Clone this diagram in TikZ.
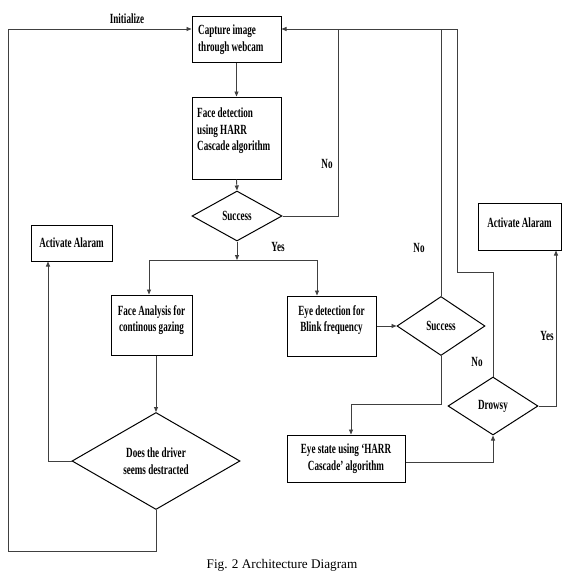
\documentclass[tikz,border=0pt]{standalone}
\usepackage{fontspec}
\setmainfont{Liberation Serif}
\newfontfamily\condfont[FakeStretch=0.65]{Liberation Serif}
\usetikzlibrary{shapes.geometric,arrows.meta}
\begin{document}
\begin{tikzpicture}[x=1pt,y=-1pt,
  box/.style={draw=black, line width=1pt, inner sep=0pt, rectangle},
  dia/.style={draw=black, line width=1pt, diamond, inner sep=0pt},
  txt/.style={font={\condfont\bfseries\fontsize{14}{16.5}\selectfont}, inner sep=0pt, align=center},
  conn/.style={line width=0.9pt, draw=black!75},
  arr/.style={conn, -{Triangle[length=5pt,width=4pt]}}]
\useasboundingbox[fill=white] (0,0) rectangle (565,584);

% boxes
\node[box, minimum width=89pt, minimum height=46pt] (cap) at (236.5,39) {};
\node[txt, anchor=west, align=left] (capt) at (198,39.5) {Capture image\\through webcam};
\node[box, minimum width=89pt, minimum height=82pt] (face) at (236.5,138) {};
\node[txt, anchor=west, align=left] (facet) at (197,131) {Face detection\\using HARR\\Cascade algorithm};
\node[dia, minimum width=90pt, minimum height=50pt, label={[txt]center:Success}] (s1) at (237,216) {};

\node[box, txt, minimum width=81pt, minimum height=36pt] (actL) at (71.5,243) {Activate Alaram};
\node[box, minimum width=81pt, minimum height=60pt] (fa) at (151.5,325) {};
\node[txt] (fat) at (151.5,320) {Face Analysis for\\continous gazing};
\node[box, minimum width=89pt, minimum height=60pt] (ed) at (331.5,326) {};
\node[txt] (edt) at (331.5,320) {Eye detection for\\Blink frequency};
\node[dia, minimum width=88pt, minimum height=59pt, label={[txt]center:Success}] (s2) at (441,326) {};
\node[box, minimum width=83pt, minimum height=47pt] (actR) at (519.5,226.5) {};
\node[txt] (actRt) at (519.5,223) {Activate Alaram};
\node[box, txt, minimum width=118pt, minimum height=47pt] (es) at (346,458.5) {Eye state using ‘HARR\\Cascade’ algorithm};
\node[dia, minimum width=90pt, minimum height=58pt, label={[txt]center:Drowsy}] (dr) at (493,406) {};
\node[dia, minimum width=168pt, minimum height=97pt, label={[txt]center:{Does the driver\\seems destracted}}] (big) at (156,461) {};

% labels
\node[txt] (linit) at (127,19) {Initialize};
\node[txt] (lno1) at (327,164) {No};
\node[txt] (lyes1) at (278,247) {Yes};
\node[txt] (lno2) at (419,248) {No};
\node[txt] (lyes2) at (547,336) {Yes};
\node[txt] (lno3) at (477,362) {No};
\node[font={\fontsize{13.2}{16}\selectfont}, inner sep=0pt] (fig) at (282,565) {Fig. 2 Architecture Diagram};

% connectors
\coordinate (bl) at (8,551);
\coordinate (tl) at (8,29);
\draw[arr] (big.south) |- (bl) -- (tl) -- (tl -| cap.west);
\draw[arr] (cap.south) -- (face.north);
\draw[arr] (face.south) -- (s1.north);
\coordinate (n1) at (338,29);
\draw[conn] (s1.east) -| (n1);
\coordinate (tr) at (457,29);
\draw[arr] (tr) -- (tr -| cap.east);
\draw[conn] (s2.north) -- (s2.north |- tr);
\coordinate (dk) at (457,272);
\draw[conn] (dr.north) |- (dk) -- (tr);
\coordinate (j1) at (237,260);
\draw[arr] (s1.south) -- (j1);
\coordinate (jl) at (149,260);
\coordinate (jr) at (317,260);
\draw[conn] (jl) -- (jr);
\draw[arr] (jl) -- (jl |- fa.north);
\draw[arr] (jr) -- (jr |- ed.north);
\draw[arr] (ed.east) -- (s2.west);
\coordinate (k1) at (351,404);
\draw[arr] (s2.south) |- (k1) -- (k1 |- es.north);
\draw[arr] ([yshift=-3.5pt]es.east) -| (dr.south);
\coordinate (k2) at (556,406);
\draw[arr] (dr.east) -- (k2) -- (k2 |- actR.south);
\draw[arr] (big.north |- fa.south) -- (big.north);
\coordinate (k3) at (48,461);
\draw[arr] (big.west) -- (k3) -- (k3 |- actL.south);
\end{tikzpicture}
\end{document}
